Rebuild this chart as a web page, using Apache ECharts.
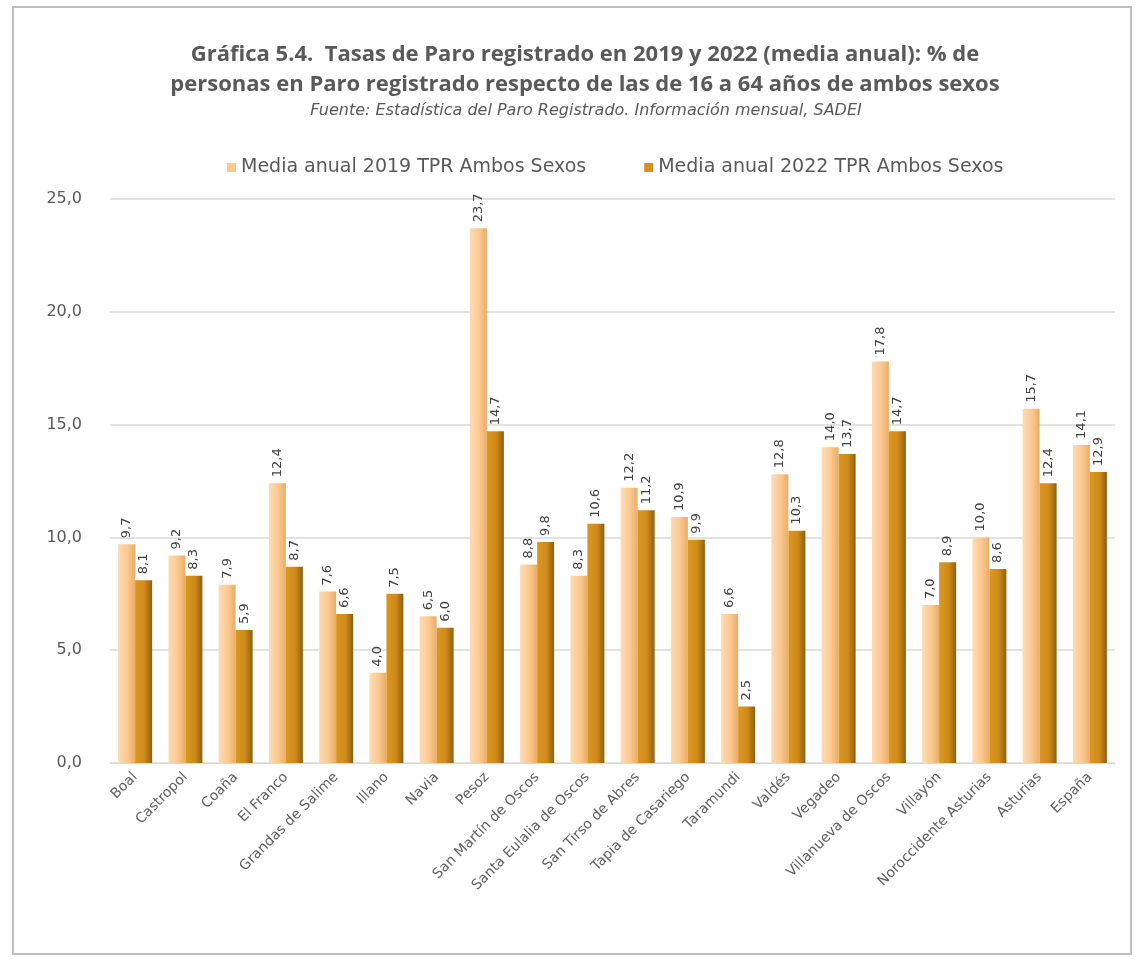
<!DOCTYPE html>
<html>
<head>
<meta charset="utf-8">
<script src="https://cdn.jsdelivr.net/npm/echarts@6/dist/echarts.min.js"></script>
<style>
html,body{margin:0;padding:0;background:#fff;}
#chart{width:1136px;height:960px;}
</style>
</head>
<body>
<div id="chart"></div>
<script>
const categories = ["Boal","Castropol","Coaña","El Franco","Grandas de Salime","Illano","Navia","Pesoz","San Martín de Oscos","Santa Eulalia de Oscos","San Tirso de Abres","Tapia de Casariego","Taramundi","Valdés","Vegadeo","Villanueva de Oscos","Villayón","Noroccidente Asturias","Asturias","España"];
const values2019 = [9.7,9.2,7.9,12.4,7.6,4.0,6.5,23.7,8.8,8.3,12.2,10.9,6.6,12.8,14.0,17.8,7.0,10.0,15.7,14.1];
const values2022 = [8.1,8.3,5.9,8.7,6.6,7.5,6.0,14.7,9.8,10.6,11.2,9.9,2.5,10.3,13.7,14.7,8.9,8.6,12.4,12.9];
const seriesNames = ["Media anual 2019 TPR Ambos Sexos","Media anual 2022 TPR Ambos Sexos"];
const yTicks = {min:0, max:25, interval:5};

const fmt = v => v.toFixed(1).replace('.', ',');
const chart = echarts.init(document.getElementById('chart'));
const grad = (a,b,c) => new echarts.graphic.LinearGradient(0,0,1,0,[{offset:0,color:a},{offset:0.55,color:b},{offset:1,color:c}]);
const labelCfg = {
  show:true, position:'top', rotate:90, align:'left', verticalAlign:'middle', distance:6,
  formatter: p => fmt(p.value), color:'#404040', fontFamily:'DejaVu Sans', fontSize:13
};
chart.setOption({
  backgroundColor:'#fff',
  graphic:[{type:'rect', shape:{x:13,y:7,width:1118,height:947}, style:{fill:'none', stroke:'#bfbfbf', lineWidth:2}, z:-1}],
  title:[
    {text:'Gráfica 5.4.  Tasas de Paro registrado en 2019 y 2022 (media anual): % de\npersonas en Paro registrado respecto de las de 16 a 64 años de ambos sexos',
     left:580, top:35, textAlign:'center',
     textStyle:{fontFamily:'Open Sans', fontWeight:'bold', fontSize:22, color:'#595959', lineHeight:30}},
    {text:'Fuente: Estadística del Paro Registrado. Información mensual, SADEI', left:581, top:98, textAlign:'center',
     textStyle:{fontFamily:'DejaVu Sans', fontStyle:'italic', fontWeight:'normal', fontSize:16, color:'#595959'}}
  ],
  legend:{
    top:153, left:222, itemWidth:9, itemHeight:9, itemGap:58, icon:'rect',
    textStyle:{fontFamily:'DejaVu Sans', fontSize:19, color:'#595959'},
    data:[{name:seriesNames[0], itemStyle:{color:'#FCC88F'}},{name:seriesNames[1], itemStyle:{color:'#D4911F'}}]
  },
  grid:{left:110, right:21, top:199, bottom:197},
  xAxis:{
    type:'category', data:categories,
    axisLine:{show:true, lineStyle:{color:'#d9d9d9'}}, axisTick:{show:false},
    axisLabel:{rotate:45, interval:0, color:'#606060', fontFamily:'DejaVu Sans', fontSize:14, margin:12}
  },
  yAxis:{
    type:'value', min:yTicks.min, max:yTicks.max, interval:yTicks.interval,
    axisLine:{show:false}, axisTick:{show:false},
    splitLine:{lineStyle:{color:'#d9d9d9', width:1.5}},
    axisLabel:{formatter: v => fmt(v), color:'#595959', fontFamily:'DejaVu Sans', fontSize:16, margin:28}
  },
  series:[
    {name:seriesNames[0], type:'bar', data:values2019, barWidth:17, barGap:'0%',
     itemStyle:{color:grad('#FDDCB4','#FCC88F','#E9AC68')}, label:labelCfg},
    {name:seriesNames[1], type:'bar', data:values2022, barWidth:17,
     itemStyle:{color:grad('#D9981F','#D08A1C','#8E600E')}, label:labelCfg}
  ]
});
</script>
</body>
</html>
